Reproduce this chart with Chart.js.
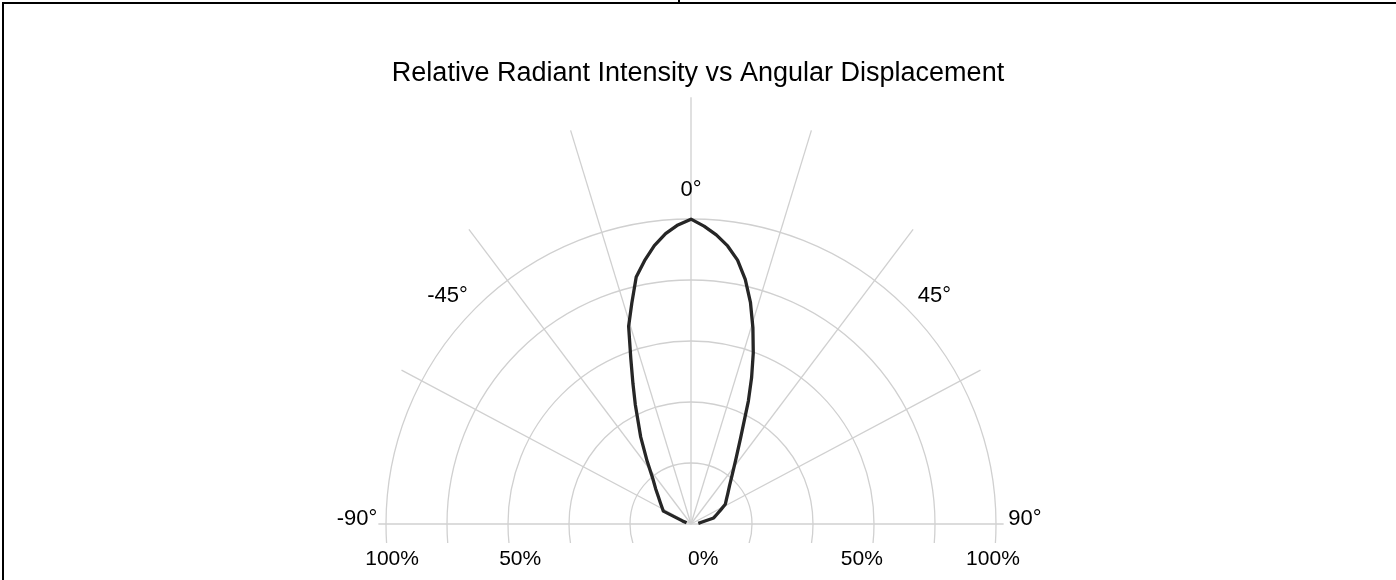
<!DOCTYPE html>
<html>
<head>
<meta charset="utf-8">
<script src="https://cdn.jsdelivr.net/npm/chart.js@4"></script>
<style>
  body { margin: 0; background: #fff; }
  #wrap { position: relative; width: 1396px; height: 580px; }
  #polarChart { position: absolute; left: 0; top: 0; }
  .rule-top { position: absolute; left: 2px; top: 2px; width: 1394px; height: 2px; background: #000; }
  .rule-left { position: absolute; left: 2px; top: 2px; width: 2px; height: 578px; background: #000; }
  .rule-tick { position: absolute; left: 678px; top: 0; width: 2px; height: 3px; background: #000; }
</style>
</head>
<body>
<div id="wrap">
  <canvas id="polarChart" width="1396" height="580"></canvas>
  <div class="rule-top"></div>
  <div class="rule-left"></div>
  <div class="rule-tick"></div>
</div>
<script>
// angle (deg) vs relative radiant intensity (1 = 100%)
var angles = [-75, -70, -65, -60, -55, -50, -45, -40, -35, -30, -25, -22.5, -20, -17.5, -15, -12.5, -10, -7.5, -5, -2.5,
  0, 2.5, 5, 7.5, 10, 12.5, 15, 17.5, 20, 22.5, 25, 30, 35, 40, 45, 50, 55, 60, 65, 70, 75, 80, 85];
var intensity = [0.015, 0.03, 0.10, 0.11, 0.123, 0.14, 0.164, 0.195, 0.25, 0.33, 0.432, 0.497, 0.577, 0.68, 0.75, 0.83, 0.877, 0.921, 0.956, 0.982,
  1.0, 0.978, 0.952, 0.92, 0.879, 0.822, 0.753, 0.675, 0.597, 0.519, 0.445, 0.325, 0.255, 0.21, 0.179, 0.158, 0.142, 0.13, 0.106, 0.089, 0.077, 0.037, 0.024];

// grid
var ringLevels = [0.2, 0.4, 0.6, 0.8, 1.0];
var spokeAngles = [-62, -37, -17, 0, 17, 37, 62];
var angleTicks = [-90, -45, 0, 45, 90];
var angleTickLabels = ['-90°', '-45°', '0°', '45°', '90°'];
var pctTicks = [-1, -0.5, 0, 0.5, 1];
var pctTickLabels = ['100%', '50%', '0%', '50%', '100%'];

var points = angles.map(function (a, i) {
  var t = a * Math.PI / 180;
  return { x: intensity[i] * Math.sin(t), y: intensity[i] * Math.cos(t) };
});

var gridColor = '#d0d0d0';
var fontFamily = '"Liberation Sans", Arial, sans-serif';

var polarGrid = {
  id: 'polarGrid',
  beforeDatasetsDraw: function (chart) {
    var ctx = chart.ctx, area = chart.chartArea;
    var x = chart.scales.x, y = chart.scales.y;
    var cx = x.getPixelForValue(0), cy = y.getPixelForValue(0);
    var unit = x.getPixelForValue(1) - cx;
    ctx.save();
    ctx.beginPath();
    ctx.rect(area.left, area.top, area.right - area.left, area.bottom - area.top);
    ctx.clip();
    ctx.strokeStyle = gridColor;
    ctx.lineWidth = 1.3;
    ringLevels.forEach(function (r) {
      ctx.beginPath();
      ctx.arc(cx, cy, r * unit, 0, Math.PI * 2);
      ctx.stroke();
    });
    spokeAngles.forEach(function (a) {
      var t = a * Math.PI / 180;
      var len = Math.abs(a) > 50 ? 1.075 : Math.abs(a) > 25 ? 1.21 : Math.abs(a) > 5 ? 1.35 : 1.40;
      ctx.beginPath();
      ctx.moveTo(cx, cy);
      ctx.lineTo(x.getPixelForValue(len * Math.sin(t)), y.getPixelForValue(len * Math.cos(t)));
      ctx.stroke();
    });
    // baseline (-90 .. 90)
    ctx.beginPath();
    ctx.moveTo(x.getPixelForValue(-1.025), cy);
    ctx.lineTo(x.getPixelForValue(1.025), cy);
    ctx.stroke();
    ctx.restore();
  },
  afterDraw: function (chart) {
    var ctx = chart.ctx;
    var x = chart.scales.x, y = chart.scales.y;
    var cy = y.getPixelForValue(0);
    ctx.save();
    ctx.fillStyle = '#000';
    ctx.textAlign = 'center';
    ctx.textBaseline = 'middle';
    // angle labels sit just outside the outer ring
    ctx.font = '22px ' + fontFamily;
    var nudge = { '-90': 0.9, '-45': -1.8, '0': 0, '45': 1.8, '90': -0.9 };
    angleTicks.forEach(function (a, i) {
      var t = (a + nudge[a]) * Math.PI / 180;
      ctx.fillText(angleTickLabels[i], x.getPixelForValue(1.095 * Math.sin(t)), y.getPixelForValue(1.095 * Math.cos(t)));
    });
    // percentage labels under the baseline
    ctx.font = '21px ' + fontFamily;
    var shift = [0.02, -0.06, 0.04, 0.06, -0.01];
    pctTicks.forEach(function (v, i) {
      ctx.fillText(pctTickLabels[i], x.getPixelForValue(v + shift[i]), cy + 35);
    });
    ctx.restore();
  }
};

var ctxP = document.getElementById('polarChart').getContext('2d');
var myPolarChart = new Chart(ctxP, {
  type: 'scatter',
  data: {
    datasets: [{
      label: 'Relative Radiant Intensity',
      data: points,
      showLine: true,
      borderColor: '#262626',
      borderWidth: 3.3,
      borderJoinStyle: 'round',
      pointRadius: 0,
      tension: 0
    }]
  },
  options: {
    responsive: false,
    animation: false,
    devicePixelRatio: 1,
    layout: { padding: { left: 0, right: 0, top: 0, bottom: 37 } },
    scales: {
      x: { type: 'linear', display: false, min: -2.2656, max: 2.3115 },
      y: { type: 'linear', display: false, min: -0.0623, max: 1.4256 }
    },
    plugins: {
      legend: { display: false },
      tooltip: { enabled: false },
      title: {
        display: true,
        text: 'Relative Radiant Intensity vs Angular Displacement',
        color: '#000',
        font: { family: fontFamily, size: 27, weight: 'normal' },
        padding: { top: 57, bottom: 0 }
      }
    }
  },
  plugins: [polarGrid]
});
</script>
</body>
</html>
